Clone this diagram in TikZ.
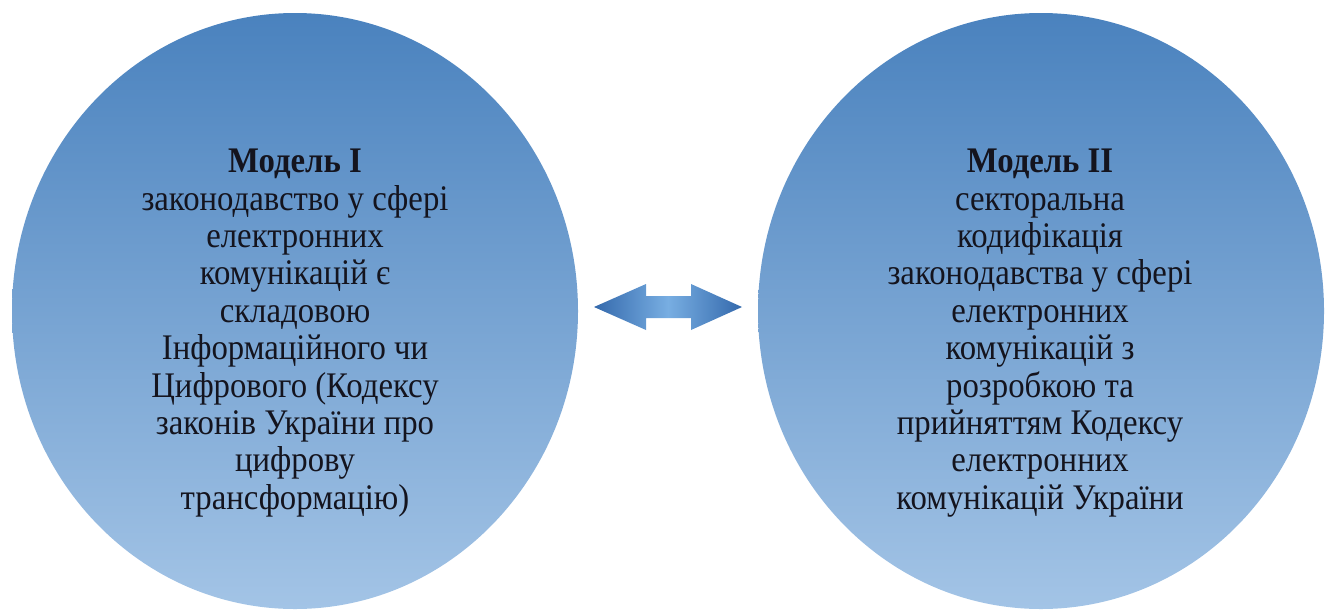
\documentclass[tikz,border=0pt]{standalone}
\usepackage{fontspec}
\setmainfont[FakeStretch=0.91]{Liberation Serif}
\usetikzlibrary{shapes.geometric,calc}
\definecolor{ellTop}{HTML}{4A82BE}
\definecolor{ellMid}{HTML}{609CD7}
\definecolor{ellBot}{HTML}{A3C4E6}
\definecolor{arrDark}{HTML}{3469AC}
\definecolor{arrLight}{HTML}{78AEE2}
\definecolor{txt}{HTML}{14141E}
\tikzset{
  bubble/.style={ellipse, draw=none, minimum width=566pt, minimum height=596pt,
    inner sep=0pt, top color=ellTop, middle color=ellMid, bottom color=ellBot},
  bubbletext/.style={align=center, text=txt, inner sep=0pt,
    font=\fontsize{36}{37.4}\selectfont},
  linkarrow/.style={draw=none, left color=arrDark, right color=arrDark, middle color=arrLight}
}
\begin{document}
\begin{tikzpicture}[x=1pt,y=-1pt]
\useasboundingbox (0,0) rectangle (1332,611);
\node[bubble] (e1) at (295,311) {};
\node[bubble] (e2) at (1041,311) {};
\node[bubbletext] (t1) at (295,333) {\textbf{Модель I}\\законодавство у сфері\\електронних\\комунікацій є\\складовою\\Інформаційного чи\\Цифрового (Кодексу\\законів України про\\цифрову\\трансформацію)};
\node[bubbletext] (t2) at (1040,333) {\textbf{Модель II}\\секторальна\\кодифікація\\законодавства у сфері\\електронних\\комунікацій з\\розробкою та\\прийняттям Кодексу\\електронних\\комунікацій України};
\coordinate (arr) at ($(e1.east)!0.5!(e2.west)+(0,-4)$);
\path[linkarrow, shift={(arr)}] (-74,0) -- (-22,-23) -- (-22,-11) -- (23,-11) -- (23,-23)
  -- (74,0) -- (23,23) -- (23,11) -- (-22,11) -- (-22,23) -- cycle;
\end{tikzpicture}
\end{document}
